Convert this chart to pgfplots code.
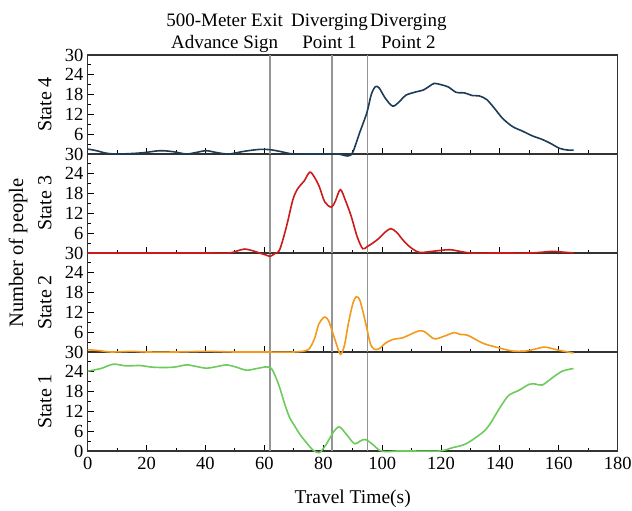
\documentclass[border=0pt]{standalone}
\usepackage{fontspec}
\setmainfont{Liberation Serif}
\usepackage{pgfplots}
\pgfplotsset{compat=1.18}

\definecolor{sfour}{HTML}{1D3C58}
\definecolor{sthree}{HTML}{CC1A1A}
\definecolor{stwo}{HTML}{F39A1C}
\definecolor{sone}{HTML}{6CCB5C}
\definecolor{vline}{HTML}{959595}

\pgfplotsset{
  panel/.style={
    scale only axis, width=530pt, height=99pt,
    xmin=0, xmax=180, ymin=0, ymax=30,
    xtick={0,20,...,180}, minor x tick num=1,
    ytick={0,6,...,30}, minor y tick num=1,
    tick align=inside, xtick pos=left, ytick pos=left,
    major tick length=6pt, minor tick length=3.5pt,
    axis line style={line width=1.1pt, black!80},
    tick style={line width=1pt, black},
    /pgf/number format/assume math mode=true,
    yticklabel style={inner sep=1pt, xshift=-3pt},
    xticklabel style={yshift=-3pt},
    y label style={at={(axis description cs:-0.081,0.5)}, anchor=center,
                   font=\fontsize{20}{24}\selectfont},
    clip=false,
  },
  upper/.style={xticklabels={}, yticklabels={{},6,12,18,24,30}},
  curve/.style={smooth, tension=0.5, line width=1.6pt, no markers},
  marker line/.style={vline, line width=1.6pt, no markers},
}

\begin{document}
\begin{tikzpicture}[font=\fontsize{18.5}{22}\selectfont]

% panels are drawn from the bottom up, so that each curve lies over the
% frame of the panel below it

% ---- State 1 ----
\begin{axis}[panel, name=p1,
  ylabel={State 1},
  xlabel={Travel Time(s)},
  x label style={at={(axis description cs:0.5,0)}, anchor=base, inner sep=0pt,
                 yshift=-52pt, font=\fontsize{19.5}{23}\selectfont}]
\addplot[marker line] coordinates {(62,0) (62,30)};
\addplot[marker line] coordinates {(83,0) (83,30)};
\addplot[marker line] coordinates {(95,0) (95,30)};
\addplot[curve, sone] coordinates {
  (0,24.2) (4.5,25) (8.7,26.3) (13,25.8) (17.7,25.9) (22,25.4) (26.8,25.3)
  (30,25.5) (33.6,26.1) (37,25.6) (40.3,25.1) (44,25.6) (47.1,26.1)
  (50.5,25.4) (53.9,24.5) (57.5,25) (60.7,25.5) (62.4,25) (63.8,22.5)
  (65.2,19.2) (67,14) (68.6,10.1) (70.5,7.3) (72,5.1) (74.5,2.3) (76.5,0.3)
  (78.7,-0.5) (81,2) (83.5,5.8) (85.5,7.3) (87.8,5.1) (90.6,2.2) (92.5,3)
  (94.3,3.5) (96.8,2) (99.1,0.2) (101.4,-0.2) (105,0) (110,0) (119.4,0)
  (123.9,1) (128.5,2.2) (134.1,5.6) (136.5,8) (138.6,11.1) (141,14.5)
  (143.2,17) (146.5,18.4) (149.9,20.2) (152,20.3) (154.4,20) (157.8,22.2)
  (161.2,24.2) (165,25)};
\end{axis}

% ---- State 2 ----
\begin{axis}[panel, upper, name=p2, at={(p1.north west)}, anchor=south west,
  ylabel={State 2}]
\addplot[marker line] coordinates {(62,0) (62,30)};
\addplot[marker line] coordinates {(83,0) (83,30)};
\addplot[marker line] coordinates {(95,0) (95,30)};
\addplot[curve, stwo] coordinates {
  (0,0.7) (4,0.4) (8,0) (15,0.2) (20,0) (30,0) (40,0.2) (50,0) (60,0) (70,0)
  (74.8,0.7) (77,4) (78.5,8.5) (80.4,10.6) (81.8,9.5) (83.3,5.6) (84.8,1.5)
  (85.9,-0.7) (87.2,2) (88.5,8.5) (90,14.5) (91.2,16.7) (92.5,15.5) (94.6,8)
  (96,2.5) (97.4,0.8) (99,1) (101,2.6) (103.6,3.8) (107,4.3) (109.5,5.3)
  (112.6,6.4) (114.5,6.1) (117.7,4) (121.1,4.8) (124.5,5.9) (126.5,5.3)
  (129,5.1) (134.1,2.7) (138.6,1.5) (144.3,0.3) (148.8,0.3) (152,0.9)
  (155,1.5) (157.5,1.1) (160.1,0.5) (165,-0.3)};
\end{axis}

% ---- State 3 ----
\begin{axis}[panel, upper, name=p3, at={(p2.north west)}, anchor=south west,
  ylabel={State 3}]
\addplot[marker line] coordinates {(62,0) (62,30)};
\addplot[marker line] coordinates {(83,0) (83,30)};
\addplot[marker line] coordinates {(95,0) (95,30)};
\addplot[curve, sthree] coordinates {
  (0,0) (20,0) (40,0) (48,0) (51,0.7) (53.3,1.2) (56,0.7) (58.4,0) (60.5,-0.6)
  (62,-1) (63.5,-0.2) (65.2,1) (67.5,8) (69.7,16.2) (71.4,19.6) (73.5,21.8)
  (75.4,24.5) (77,23) (78.7,20) (80.5,15.5) (82.7,13.9) (84,15.5) (85.8,19.2)
  (87.5,16) (89.5,11.1) (91.5,5) (93.4,1.3) (95,2) (96.8,3) (99,4.5) (101,6.3)
  (103,7.4) (105,6.2) (107,4) (109.5,1.8) (112.6,0.2) (117,0.5) (122.8,1)
  (127,0.4) (130.7,0) (140,0) (150,0) (155,0.3) (157.8,0.5) (161,0.3) (165,0)};
\node[rotate=90, anchor=center, inner sep=0pt, font=\fontsize{20.5}{24}\selectfont]
  at (axis description cs:-0.1315,0) {Number of people};
\end{axis}

% ---- State 4 ----
\begin{axis}[panel, upper, name=p4, at={(p3.north west)}, anchor=south west,
  ylabel={State 4}]
\addplot[marker line] coordinates {(62,0) (62,30)};
\addplot[marker line] coordinates {(83,0) (83,30)};
\addplot[marker line] coordinates {(95,0) (95,30)};
\addplot[curve, sfour] coordinates {
  (0,1.5) (3,1) (6,0.3) (9,0) (14,0.1) (19,0.4) (24.5,1) (29,0.7) (33.5,0)
  (37,0.5) (40.3,1) (44,0.4) (48,0) (53,0.8) (58.4,1.4) (62,1.3) (65.2,0.8)
  (69.7,0) (75,0) (80,0) (85,0) (88.3,-0.6) (90,0.5) (92.3,6.3) (94.8,12.5)
  (96.3,18) (97.7,20.4) (99,20) (101,17) (103.6,14.5) (106,16) (108,17.8)
  (111,18.7) (114,19.4) (116,20.5) (117.7,21.4) (120,21) (122.5,20.3)
  (125.1,18.7) (128,18.5) (130.7,17.7) (133,17.6) (135.5,16.5) (138,14)
  (140.9,10.8) (144.3,8.3) (147.5,7) (151,5.5) (154.4,4.4) (157,3.3)
  (160.3,1.7) (163,1.2) (165,1.2)};
\begin{scope}[every node/.style={anchor=base, inner sep=0pt,
                                 font=\fontsize{19}{23}\selectfont}]
\node at (axis cs:46.5,30) [yshift=28pt] {500-Meter Exit};
\node at (axis cs:46.5,30) [yshift=6pt] {Advance Sign};
\node at (axis cs:82.1,30) [yshift=28pt] {Diverging};
\node at (axis cs:82.1,30) [yshift=6pt] {Point 1};
\node at (axis cs:108.9,30) [yshift=28pt] {Diverging};
\node at (axis cs:108.9,30) [yshift=6pt] {Point 2};
\end{scope}
\end{axis}

% page the size of the reference: 632 x 510
\pgfresetboundingbox
\path[use as bounding box] ([xshift=-87.7pt,yshift=-59pt]p1.south west)
  rectangle ([xshift=14.3pt,yshift=55pt]p4.north east);
\end{tikzpicture}
\end{document}
